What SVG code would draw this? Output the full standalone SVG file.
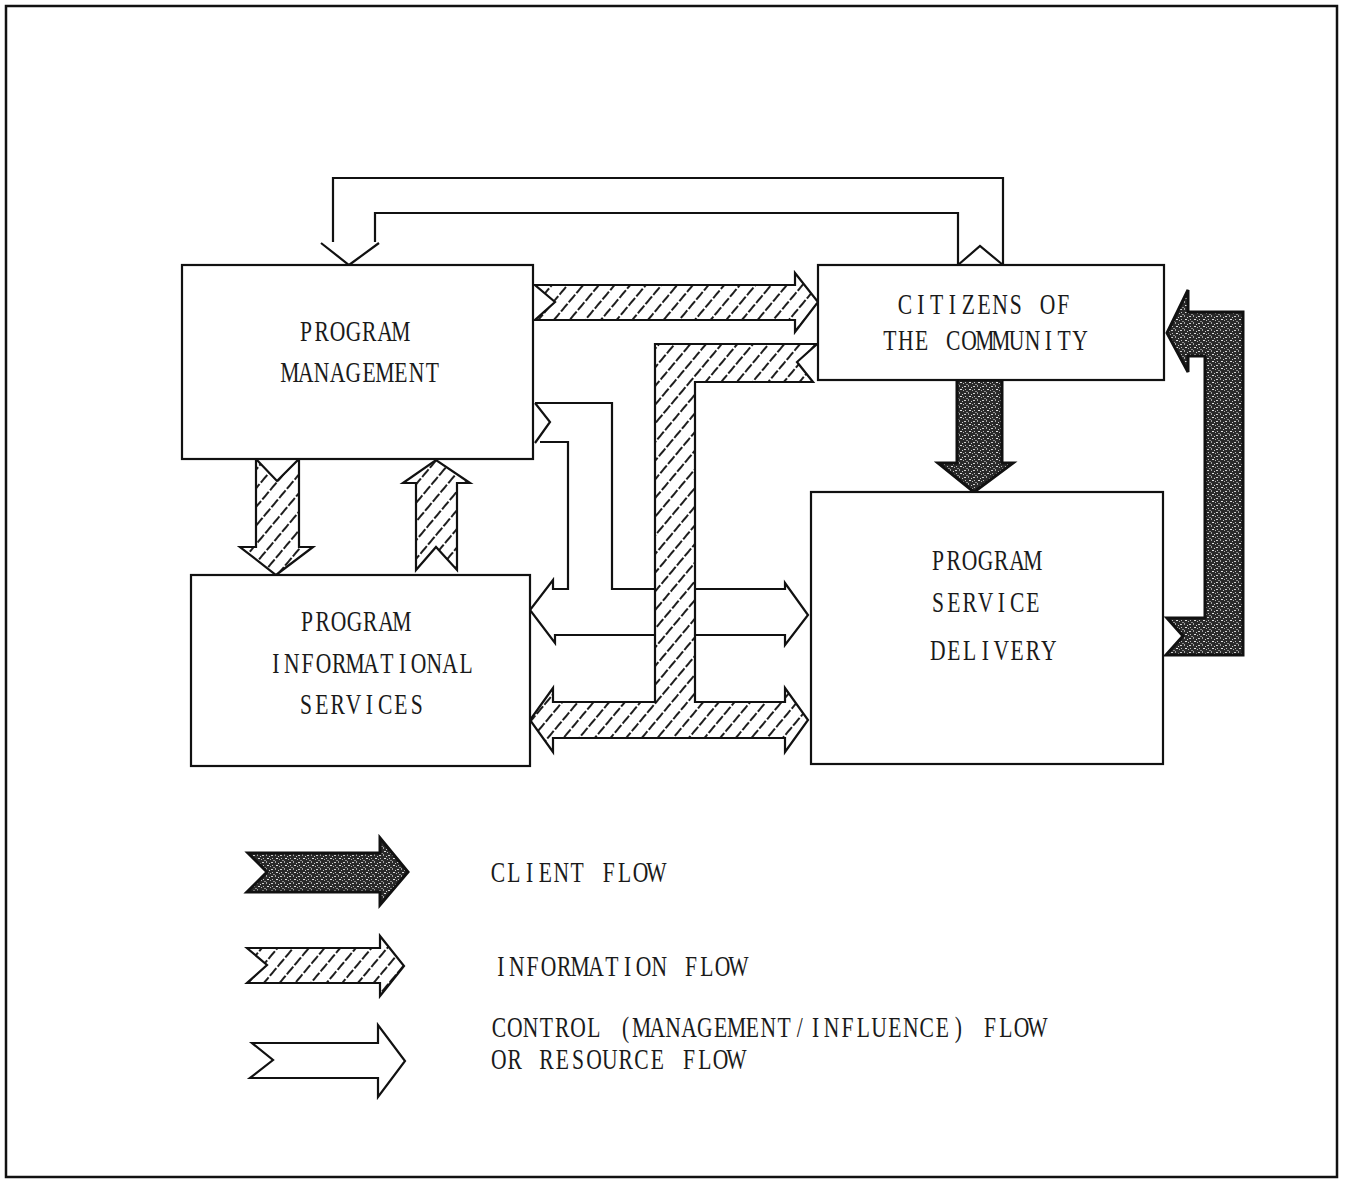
<svg xmlns="http://www.w3.org/2000/svg" width="1352" height="1181" viewBox="0 0 1352 1181">
<style>
  .box { fill: #fff; stroke: #111; stroke-width: 2.2; }
  .ln { fill: none; stroke: #111; stroke-width: 2.2; stroke-linejoin: miter; }
  .hatch { fill: url(#hatch); stroke: #111; stroke-width: 2.2; stroke-linejoin: miter; }
  .client { fill: url(#speck); stroke: #111; stroke-width: 3; stroke-linejoin: miter; }
  .t { font-family: "Liberation Serif", "Times New Roman", serif; font-size: 30px; fill: #1a1a1a; text-anchor: middle; }
</style>
<defs>
  <pattern id="hatch" width="12" height="12" patternUnits="userSpaceOnUse" patternTransform="rotate(40)">
    <rect width="12" height="12" fill="#fff"/>
    <line x1="6" y1="0" x2="6" y2="12" stroke="#111" stroke-width="1.9" stroke-dasharray="10 2"/>
  </pattern>
  <pattern id="speck" width="9" height="7" patternUnits="userSpaceOnUse">
    <rect width="9" height="7" fill="#2a2a2a"/>
    <rect x="1" y="1" width="2" height="1" fill="#d0d0d0"/>
    <rect x="5" y="0" width="1" height="2" fill="#a0a0a0"/>
    <rect x="6" y="4" width="2" height="1" fill="#e2e2e2"/>
    <rect x="2" y="4" width="1" height="1" fill="#bdbdbd"/>
    <rect x="3" y="6" width="2" height="1" fill="#8a8a8a"/>
    <rect x="8" y="2" width="1" height="1" fill="#cccccc"/>
    <rect x="0" y="5" width="1" height="1" fill="#b0b0b0"/>
  </pattern>
</defs>

<rect x="6" y="6" width="1331" height="1171" fill="#fff" stroke="#111" stroke-width="2.5"/>

<g id="connectors">
  <!-- control flow: citizens -> program management (top loop) -->
  <path class="ln" d="M333,242 V178 H1003 V265"/>
  <path class="ln" d="M375,242 V213 H958 V265"/>
  <path class="ln" d="M321,243 L349,265 L379,243"/>
  <path class="ln" d="M958,265 L980,246 L1003,265"/>

  <!-- control flow: program management -> informational services and service delivery -->
  <path class="ln" d="M535,403 L550,422 L535,443"/>
  <path class="ln" d="M535,403 H612 V589 H785 V583 L808,615 L785,645 V635 H555"/>
  <path class="ln" d="M540,442 H568 V589 H553 V580 L530,610 L555,643 V634"/>

  <!-- information flow: program management -> citizens -->
  <polygon class="hatch" points="535,285 795,285 795,273 818,302 795,332 795,320 535,320 555,302"/>

  <!-- information flow: citizens -> T to informational services and service delivery -->
  <polygon class="hatch" points="817,344 655,344 655,702 553,702 553,688 530,720 553,752 553,738 785,738 785,752 808,720 785,688 785,702 695,702 695,382 813,382 797,362"/>

  <!-- information flow: management -> informational services (down) -->
  <polygon class="hatch" points="256,459 277,481 299,459 299,547 313,547 276,575 240,547 256,547"/>
  <!-- information flow: informational services -> management (up) -->
  <polygon class="hatch" points="416,570 416,483 403,483 436,460 470,483 457,483 457,570 436,547"/>

  <!-- client flow: citizens -> service delivery -->
  <polygon class="client" points="957,380 1002,380 1002,463 1013,463 974,492 938,463 957,463"/>
  <!-- client flow: service delivery -> citizens -->
  <polygon class="client" points="1167,333 1188,290 1188,312 1243,312 1243,655 1166,655 1183,636 1167,618 1205,618 1205,356 1188,356 1188,372"/>
</g>

<g id="node-program-management">
  <rect class="box" x="182" y="265" width="351" height="194"/>
  <text class="t" transform="translate(298,341) scale(0.72,1)" x="11 33 55 77 99 121 143" y="0">PROGRAM</text>
  <text class="t" transform="translate(282,382) scale(0.72,1)" x="11 33 55 77 99 121 143 165 187 209" y="0">MANAGEMENT</text>
</g>

<g id="node-citizens">
  <rect class="box" x="818" y="265" width="346" height="115"/>
  <text class="t" transform="translate(897,314) scale(0.72,1)" x="11 33 55 77 99 121 143 165 187 209 231" y="0">CITIZENS OF</text>
  <text class="t" transform="translate(882,350) scale(0.72,1)" x="11 33 55 77 99 121 143 165 187 209 231 253 275" y="0">THE COMMUNITY</text>
</g>

<g id="node-informational-services">
  <rect class="box" x="191" y="575" width="339" height="191"/>
  <text class="t" transform="translate(299,631) scale(0.72,1)" x="11 33 55 77 99 121 143" y="0">PROGRAM</text>
  <text class="t" transform="translate(268,673) scale(0.72,1)" x="11 33 55 77 99 121 143 165 187 209 231 253 275" y="0">INFORMATIONAL</text>
  <text class="t" transform="translate(298,714) scale(0.72,1)" x="11 33 55 77 99 121 143 165" y="0">SERVICES</text>
</g>

<g id="node-service-delivery">
  <rect class="box" x="811" y="492" width="352" height="272"/>
  <text class="t" transform="translate(930,570) scale(0.72,1)" x="11 33 55 77 99 121 143" y="0">PROGRAM</text>
  <text class="t" transform="translate(930,612) scale(0.72,1)" x="11 33 55 77 99 121 143" y="0">SERVICE</text>
  <text class="t" transform="translate(930,660) scale(0.72,1)" x="11 33 55 77 99 121 143 165" y="0">DELIVERY</text>
</g>

<g id="legend">
  <polygon class="client" points="248,853 380,853 380,838 408,872 380,905 380,892 247,892 267,872"/>
  <text class="t" transform="translate(490,882) scale(0.72,1)" x="11 33 55 77 99 121 143 165 187 209 231" y="0">CLIENT FLOW</text>
  <polygon class="hatch" points="247,948 380,948 380,936 404,966 380,996 380,983 247,983 267,965"/>
  <text class="t" transform="translate(493,976) scale(0.72,1)" x="11 33 55 77 99 121 143 165 187 209 231 253 275 297 319 341" y="0">INFORMATION FLOW</text>
  <polygon class="box" points="252,1043 378,1043 378,1025 405,1061 378,1097 378,1078 250,1078 273,1060"/>
  <text class="t" transform="translate(491,1037) scale(0.72,1)" x="11 33 55 77 99 121 143 165 187 209 231 253 275 297 319 341 363 385 407 429 451 473 495 517 539 561 583 605 627 649 671 693 715 737 759" y="0">CONTROL (MANAGEMENT/INFLUENCE) FLOW</text>
  <text class="t" transform="translate(491,1069) scale(0.72,1)" x="11 33 55 77 99 121 143 165 187 209 231 253 275 297 319 341" y="0">OR RESOURCE FLOW</text>
</g>
</svg>
